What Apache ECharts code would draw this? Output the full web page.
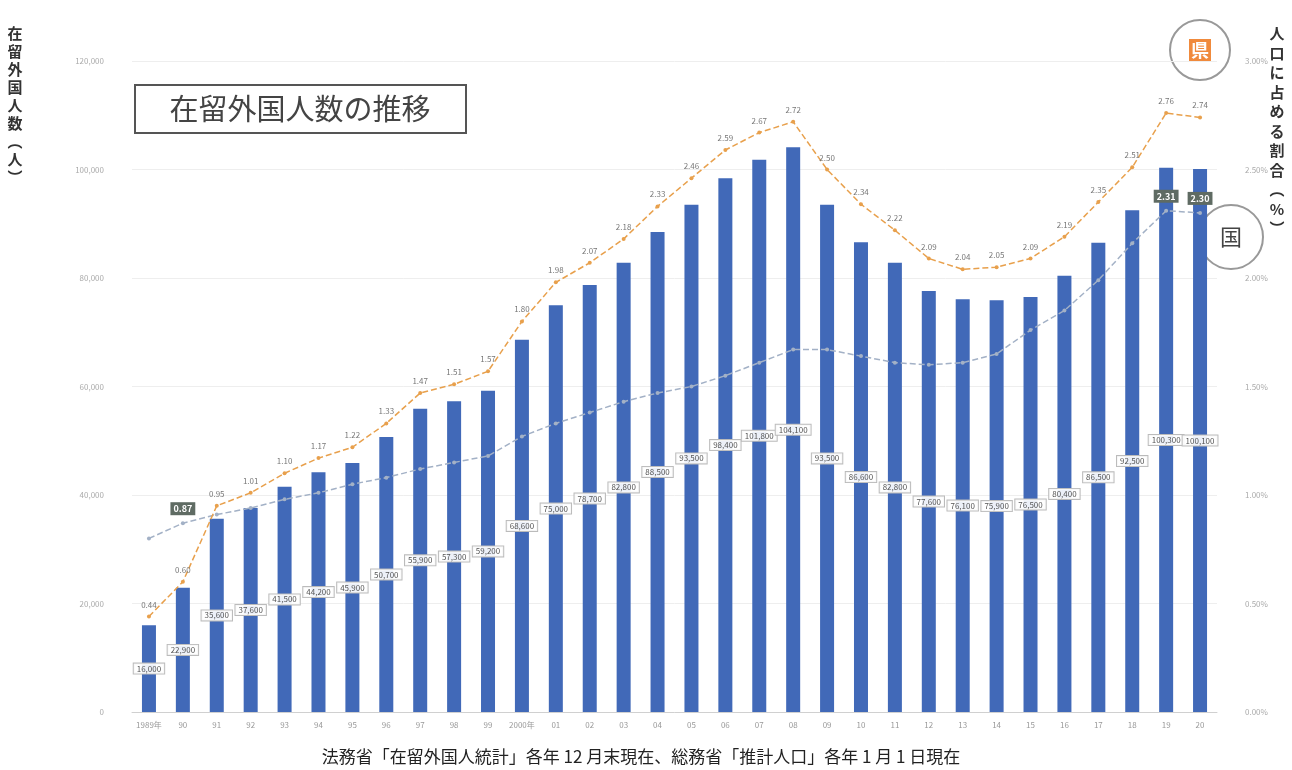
<!DOCTYPE html>
<html><head><meta charset="utf-8">
<script src="https://cdn.jsdelivr.net/npm/echarts@6/dist/echarts.min.js"></script>
<style>html,body{margin:0;padding:0;background:#fff}#c{width:1292px;height:770px}</style>
</head><body><div id="c"></div>
<script>
const categories = ['1989年','90','91','92','93','94','95','96','97','98','99','2000年','01','02','03','04','05','06','07','08','09','10','11','12','13','14','15','16','17','18','19','20'];
const residents = [16000,22900,35600,37600,41500,44200,45900,50700,55900,57300,59200,68600,75000,78700,82800,88500,93500,98400,101800,104100,93500,86600,82800,77600,76100,75900,76500,80400,86500,92500,100300,100100];
const prefRatio = [0.44,0.60,0.95,1.01,1.10,1.17,1.22,1.33,1.47,1.51,1.57,1.80,1.98,2.07,2.18,2.33,2.46,2.59,2.67,2.72,2.50,2.34,2.22,2.09,2.04,2.05,2.09,2.19,2.35,2.51,2.76,2.74];
const natRatio = [0.80,0.87,0.91,0.94,0.98,1.01,1.05,1.08,1.12,1.15,1.18,1.27,1.33,1.38,1.43,1.47,1.50,1.55,1.61,1.67,1.67,1.64,1.61,1.60,1.61,1.65,1.76,1.85,1.99,2.16,2.31,2.30];
const natLabeled = [1,30,31];
const leftTicks = {min:0, max:120000, interval:20000};
const rightTicks = {min:0, max:3, interval:0.5};

const chart = echarts.init(document.getElementById('c'));
const fmt = v => v.toLocaleString('en-US');
const natData = natRatio.map((v,i)=> natLabeled.includes(i)
  ? {value:v,label:{show:true,position:'top',distance:6,color:'#fff',fontSize:9,fontWeight:'bold',
      backgroundColor:'#5f6b63',padding:[2,3],formatter:p=>p.value.toFixed(2)}}
  : v);
chart.setOption({
  animation:false,
  textStyle:{fontFamily:'"Noto Sans CJK JP","Noto Sans",sans-serif'},
  grid:{left:132,right:75,top:61,bottom:58},
  xAxis:{type:'category',data:categories,
    axisLine:{lineStyle:{color:'#d0d0d0'}},axisTick:{show:false},
    axisLabel:{color:'#999',fontSize:8,margin:9,interval:0}},
  yAxis:[
    {type:'value',min:leftTicks.min,max:leftTicks.max,interval:leftTicks.interval,
     axisLabel:{color:'#aaa',fontSize:8,margin:28,formatter:v=>fmt(v)},
     splitLine:{lineStyle:{color:'#eeeeee'}},axisLine:{show:false}},
    {type:'value',min:rightTicks.min,max:rightTicks.max,interval:rightTicks.interval,position:'right',
     axisLabel:{color:'#aaa',fontSize:8,margin:28,formatter:v=>v.toFixed(2)+'%'},
     splitLine:{show:false},axisLine:{show:false}}
  ],
  series:[
    {type:'bar',data:residents,barWidth:14,itemStyle:{color:'#4169b8'},
     label:{show:true,position:'inside',color:'#555',fontSize:8,backgroundColor:'rgba(255,255,255,0.9)',
       borderColor:'#bbb',borderWidth:1,padding:[1,3],formatter:p=>fmt(p.value)}},
    {type:'line',yAxisIndex:1,data:natData,symbol:'circle',symbolSize:4,z:3,
     lineStyle:{color:'#a3b1c6',width:1.5,type:'dashed'},itemStyle:{color:'#a3b1c6'},
     label:{show:false}},
    {type:'line',yAxisIndex:1,data:prefRatio,symbol:'circle',symbolSize:4,
     lineStyle:{color:'#e8a04c',width:1.5,type:'dashed'},itemStyle:{color:'#e8a04c'},
     label:{show:true,position:'top',distance:6,color:'#777',fontSize:8,formatter:p=>p.value.toFixed(2)}}
  ],
  graphic:[
    {type:'rect',shape:{x:135,y:85,width:331,height:48},style:{fill:'#fff',stroke:'#555',lineWidth:2}},
    {type:'text',x:300,y:109,style:{text:'在留外国人数の推移',fill:'#444',font:'29px "Noto Sans CJK JP"',textAlign:'center',textVerticalAlign:'middle'}},
    {type:'text',x:15,y:24,style:{text:'在\n留\n外\n国\n人\n数\n︵\n人\n︶',fill:'#333',font:'bold 15px "Noto Sans CJK JP"',textAlign:'center',lineHeight:18}},
    {type:'text',x:1277,y:24,style:{text:'人\n口\nに\n占\nめ\nる\n割\n合\n︵\n%\n︶',fill:'#333',font:'bold 15px "Noto Sans CJK JP"',textAlign:'center',lineHeight:19.5}},
    {type:'circle',shape:{cx:1200,cy:50,r:30},style:{fill:'#fff',stroke:'#999',lineWidth:2}},
    {type:'rect',shape:{x:1189,y:39,width:22,height:22},style:{fill:'#f08a3c'}},
    {type:'text',x:1200,y:50,style:{text:'県',fill:'#fff',font:'bold 18px "Noto Sans CJK JP"',textAlign:'center',textVerticalAlign:'middle'}},
    {type:'circle',shape:{cx:1231,cy:237,r:32},style:{fill:'#fff',stroke:'#999',lineWidth:2}},
    {type:'text',x:1231,y:237,style:{text:'国',fill:'#444',font:'22px "Noto Sans CJK JP"',textAlign:'center',textVerticalAlign:'middle'}},
    {type:'text',x:641,y:757,style:{text:'法務省「在留外国人統計」各年 12 月末現在、総務省「推計人口」各年 1 月 1 日現在',fill:'#222',font:'17px "Noto Sans CJK JP"',textAlign:'center',textVerticalAlign:'middle'}}
  ]
});
</script></body></html>
